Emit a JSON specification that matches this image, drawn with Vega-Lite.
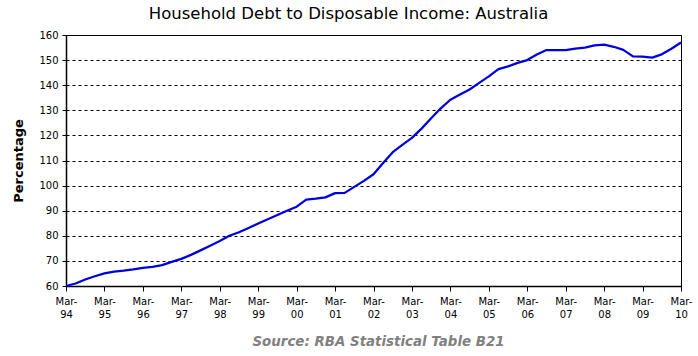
{
  "$schema": "https://vega.github.io/schema/vega-lite/v6.json",
  "width": 615,
  "height": 251,
  "autosize": {"type": "none"},
  "padding": {"left": 66, "top": 35, "right": 17, "bottom": 70},
  "background": "white",
  "title": {
    "text": "Household Debt to Disposable Income: Australia",
    "font": "DejaVu Sans",
    "fontSize": 16.5,
    "fontWeight": "normal",
    "color": "black",
    "anchor": "middle",
    "dx": -25,
    "offset": 8
  },
  "config": {
    "view": {"stroke": "black", "strokeWidth": 1},
    "axis": {
      "labelFont": "DejaVu Sans",
      "labelFontSize": 10,
      "labelColor": "black",
      "titleFont": "DejaVu Sans",
      "titleColor": "black",
      "domainColor": "black",
      "tickColor": "black"
    }
  },
  "data": {
    "values": [
      {"quarter": "Mar-94", "ratio": 60.0},
      {"quarter": "Jun-94", "ratio": 61.0},
      {"quarter": "Sep-94", "ratio": 62.6},
      {"quarter": "Dec-94", "ratio": 63.9},
      {"quarter": "Mar-95", "ratio": 65.0},
      {"quarter": "Jun-95", "ratio": 65.7},
      {"quarter": "Sep-95", "ratio": 66.1},
      {"quarter": "Dec-95", "ratio": 66.6},
      {"quarter": "Mar-96", "ratio": 67.2},
      {"quarter": "Jun-96", "ratio": 67.6},
      {"quarter": "Sep-96", "ratio": 68.3},
      {"quarter": "Dec-96", "ratio": 69.6},
      {"quarter": "Mar-97", "ratio": 70.8},
      {"quarter": "Jun-97", "ratio": 72.4},
      {"quarter": "Sep-97", "ratio": 74.2},
      {"quarter": "Dec-97", "ratio": 76.0},
      {"quarter": "Mar-98", "ratio": 77.9},
      {"quarter": "Jun-98", "ratio": 80.0},
      {"quarter": "Sep-98", "ratio": 81.4},
      {"quarter": "Dec-98", "ratio": 83.1},
      {"quarter": "Mar-99", "ratio": 84.9},
      {"quarter": "Jun-99", "ratio": 86.6},
      {"quarter": "Sep-99", "ratio": 88.3},
      {"quarter": "Dec-99", "ratio": 90.0},
      {"quarter": "Mar-00", "ratio": 91.6},
      {"quarter": "Jun-00", "ratio": 94.4},
      {"quarter": "Sep-00", "ratio": 94.8},
      {"quarter": "Dec-00", "ratio": 95.3},
      {"quarter": "Mar-01", "ratio": 97.0},
      {"quarter": "Jun-01", "ratio": 97.1},
      {"quarter": "Sep-01", "ratio": 99.5},
      {"quarter": "Dec-01", "ratio": 101.9},
      {"quarter": "Mar-02", "ratio": 104.5},
      {"quarter": "Jun-02", "ratio": 109.0},
      {"quarter": "Sep-02", "ratio": 113.3},
      {"quarter": "Dec-02", "ratio": 116.2},
      {"quarter": "Mar-03", "ratio": 119.0},
      {"quarter": "Jun-03", "ratio": 122.7},
      {"quarter": "Sep-03", "ratio": 126.8},
      {"quarter": "Dec-03", "ratio": 130.8},
      {"quarter": "Mar-04", "ratio": 134.2},
      {"quarter": "Jun-04", "ratio": 136.3},
      {"quarter": "Sep-04", "ratio": 138.3},
      {"quarter": "Dec-04", "ratio": 140.9},
      {"quarter": "Mar-05", "ratio": 143.5},
      {"quarter": "Jun-05", "ratio": 146.4},
      {"quarter": "Sep-05", "ratio": 147.5},
      {"quarter": "Dec-05", "ratio": 148.9},
      {"quarter": "Mar-06", "ratio": 150.0},
      {"quarter": "Jun-06", "ratio": 152.2},
      {"quarter": "Sep-06", "ratio": 154.0},
      {"quarter": "Dec-06", "ratio": 154.0},
      {"quarter": "Mar-07", "ratio": 154.0},
      {"quarter": "Jun-07", "ratio": 154.6},
      {"quarter": "Sep-07", "ratio": 155.0},
      {"quarter": "Dec-07", "ratio": 155.9},
      {"quarter": "Mar-08", "ratio": 156.2},
      {"quarter": "Jun-08", "ratio": 155.3},
      {"quarter": "Sep-08", "ratio": 154.1},
      {"quarter": "Dec-08", "ratio": 151.5},
      {"quarter": "Mar-09", "ratio": 151.4},
      {"quarter": "Jun-09", "ratio": 151.0},
      {"quarter": "Sep-09", "ratio": 152.3},
      {"quarter": "Dec-09", "ratio": 154.5},
      {"quarter": "Mar-10", "ratio": 157.0}
    ]
  },
  "mark": {"type": "line", "color": "#0000dd", "strokeWidth": 2.25, "strokeJoin": "round"},
  "encoding": {
    "x": {
      "field": "quarter",
      "type": "ordinal",
      "sort": null,
      "scale": {"type": "point", "padding": 0},
      "axis": {
        "values": ["Mar-94","Mar-95","Mar-96","Mar-97","Mar-98","Mar-99","Mar-00","Mar-01","Mar-02","Mar-03","Mar-04","Mar-05","Mar-06","Mar-07","Mar-08","Mar-09","Mar-10"],
        "labelExpr": "[split(datum.label, '-')[0] + '-', split(datum.label, '-')[1]]",
        "labelAngle": 0,
        "labelLineHeight": 13,
        "labelPadding": 5,
        "tickSize": 5,
        "domainWidth": 1.5,
        "grid": false,
        "title": "Source: RBA Statistical Table B21",
        "titleFont": "DejaVu Sans",
        "titleFontSize": 13.4,
        "titleFontStyle": "italic",
        "titleFontWeight": "bold",
        "titleColor": "#808080",
        "titlePadding": 15,
        "titleX": 312
      }
    },
    "y": {
      "field": "ratio",
      "type": "quantitative",
      "scale": {"domain": [60, 160], "nice": false, "zero": false},
      "axis": {
        "values": [60, 70, 80, 90, 100, 110, 120, 130, 140, 150, 160],
        "title": "Percentage",
        "titleFontSize": 13,
        "titleFontWeight": "bold",
        "titlePadding": 13,
        "tickSize": 4,
        "labelPadding": 4,
        "domainWidth": 1.5,
        "grid": true,
        "gridColor": "black",
        "gridDash": [3, 3],
        "gridWidth": 1,
        "gridOpacity": 1
      }
    }
  }
}
